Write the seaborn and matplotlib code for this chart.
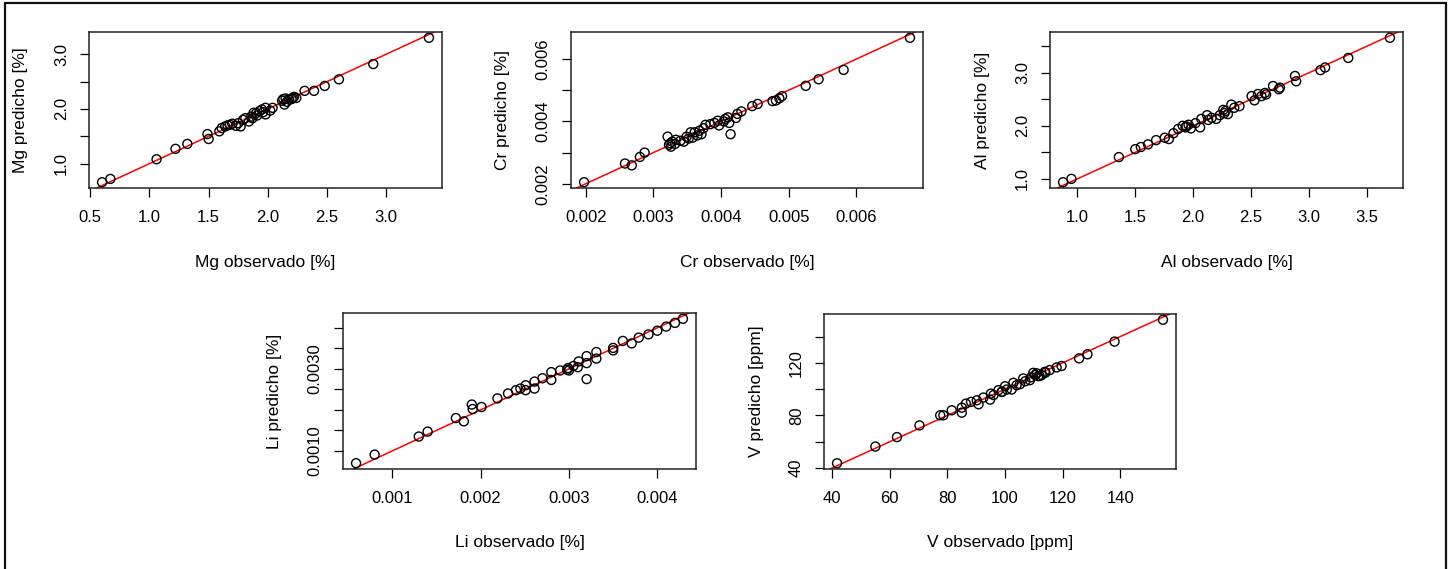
import numpy as np
import pandas as pd
import seaborn as sns
import matplotlib
matplotlib.use("Agg")
import matplotlib.pyplot as plt
from matplotlib.lines import Line2D

sns.set_style("white")
plt.rcParams["font.family"] = ["Liberation Sans", "DejaVu Sans"]

# --- Magnesio (%) ---
mg_obs = [0.60, 0.67, 1.06, 1.22, 1.32, 1.49, 1.50, 1.59, 1.61, 1.64, 1.66, 1.68, 1.70,
          1.73, 1.75, 1.77, 1.79, 1.81, 1.84, 1.86, 1.87, 1.88, 1.90, 1.91, 1.93, 1.95,
          1.96, 1.98, 1.98, 2.02, 2.04, 2.12, 2.13, 2.14, 2.15, 2.16, 2.18, 2.20, 2.21,
          2.22, 2.24, 2.31, 2.39, 2.48, 2.60, 2.89, 3.36]
mg_pred = [0.66, 0.72, 1.08, 1.27, 1.36, 1.54, 1.45, 1.59, 1.65, 1.68, 1.70, 1.71, 1.73,
           1.69, 1.74, 1.68, 1.80, 1.83, 1.77, 1.86, 1.83, 1.93, 1.92, 1.88, 1.96, 1.99,
           1.94, 2.02, 1.90, 1.97, 2.02, 2.15, 2.18, 2.08, 2.19, 2.13, 2.17, 2.18, 2.20,
           2.22, 2.20, 2.33, 2.33, 2.42, 2.54, 2.82, 3.30]

# --- Cromo (%) ---
cr_obs = [0.001975, 0.00258, 0.00268, 0.00280, 0.00287, 0.00321, 0.00323, 0.00325,
          0.00326, 0.00328, 0.00332, 0.00333, 0.00340, 0.00345, 0.00349, 0.00352,
          0.00355, 0.00358, 0.00361, 0.00365, 0.00368, 0.00371, 0.00374, 0.00377,
          0.00384, 0.00390, 0.00395, 0.00397, 0.00404, 0.00406, 0.00410, 0.00412,
          0.00414, 0.00422, 0.00424, 0.00430, 0.00446, 0.00454, 0.00476, 0.00481,
          0.00486, 0.00490, 0.00525, 0.00544, 0.00581, 0.00679]
cr_pred = [0.00205, 0.00265, 0.00259, 0.00286, 0.00300, 0.00351, 0.00325, 0.00330,
           0.00319, 0.00335, 0.00328, 0.00341, 0.00338, 0.00335, 0.00351, 0.00345,
           0.00365, 0.00348, 0.00365, 0.00355, 0.00370, 0.00359, 0.00378, 0.00389,
           0.00391, 0.00395, 0.00402, 0.00387, 0.00400, 0.00408, 0.00413, 0.00395,
           0.00359, 0.00411, 0.00424, 0.00432, 0.00449, 0.00456, 0.00465, 0.00467,
           0.00474, 0.00481, 0.00514, 0.00535, 0.00565, 0.00668]

# --- Aluminio (%) ---
al_obs = [0.876, 0.948, 1.358, 1.50, 1.548, 1.61, 1.68, 1.755, 1.79, 1.83, 1.87, 1.91,
          1.934, 1.94, 1.96, 1.98, 2.02, 2.06, 2.07, 2.12, 2.13, 2.16, 2.20, 2.23, 2.26,
          2.27, 2.28, 2.30, 2.33, 2.355, 2.40, 2.505, 2.53, 2.56, 2.59, 2.62, 2.63,
          2.69, 2.74, 2.75, 2.88, 2.89, 3.10, 3.14, 3.34, 3.70]
al_pred = [0.936, 1.00, 1.41, 1.56, 1.60, 1.65, 1.73, 1.776, 1.75, 1.86, 1.94, 2.00,
           1.97, 1.99, 2.02, 1.95, 2.05, 1.97, 2.13, 2.20, 2.11, 2.15, 2.13, 2.20, 2.30,
           2.24, 2.28, 2.22, 2.40, 2.34, 2.37, 2.56, 2.48, 2.60, 2.56, 2.62, 2.59,
           2.75, 2.69, 2.72, 2.94, 2.84, 3.05, 3.10, 3.28, 3.66]

# --- Litio (%) ---
li_obs = [0.00059, 0.00080, 0.00130, 0.00140, 0.00172, 0.00181, 0.00190, 0.00191,
          0.00201, 0.00219, 0.00231, 0.00240, 0.00245, 0.00251, 0.00251, 0.00261,
          0.00261, 0.00270, 0.00280, 0.00280, 0.00290, 0.00298, 0.00299, 0.00300,
          0.00305, 0.00310, 0.00311, 0.00320, 0.00320, 0.00320, 0.00331, 0.00331,
          0.00350, 0.00350, 0.00361, 0.00371, 0.00379, 0.00390, 0.00400, 0.00410,
          0.00420, 0.00429]
li_pred = [0.00070, 0.00091, 0.00135, 0.00147, 0.00180, 0.00172, 0.00213, 0.00202,
           0.00207, 0.00228, 0.00240, 0.00248, 0.00252, 0.00248, 0.00260, 0.00252,
           0.00269, 0.00277, 0.00292, 0.00273, 0.00296, 0.00298, 0.00302, 0.00296,
           0.00307, 0.00304, 0.00318, 0.00331, 0.00314, 0.00275, 0.00341, 0.00325,
           0.00345, 0.00351, 0.00368, 0.00362, 0.00376, 0.00384, 0.00393, 0.00403,
           0.00412, 0.00422]

# --- Vanadio (ppm) ---
v_obs = [41.7, 55.0, 62.5, 70.3, 77.5, 78.6, 81.5, 85.0, 85.0, 86.4, 88.2, 90.2, 90.8,
         92.5, 94.8, 95.1, 96.0, 97.7, 98.8, 99.0, 100.0, 100.6, 102.3, 102.9, 104.0,
         105.2, 106.3, 107.0, 108.6, 109.0, 109.8, 110.4, 111.0, 111.5, 112.0, 112.7,
         113.8, 114.0, 115.5, 117.9, 119.6, 125.7, 128.6, 138.0, 154.8]
v_pred = [43.6, 56.3, 63.5, 72.4, 80.1, 80.1, 83.9, 85.9, 82.1, 89.0, 90.3, 91.5, 88.5,
          93.6, 92.0, 96.6, 95.5, 99.2, 97.9, 98.0, 102.2, 99.7, 99.7, 104.8, 103.0,
          103.8, 108.1, 106.0, 106.8, 109.0, 112.4, 110.7, 112.0, 109.9, 110.0, 110.7,
          113.2, 112.5, 114.5, 116.5, 117.6, 123.4, 126.5, 136.2, 152.8]

# Tick positions and which of them carry a label
mg_xticks = [0.5, 1.0, 1.5, 2.0, 2.5, 3.0]
mg_xlabels = ["0.5", "1.0", "1.5", "2.0", "2.5", "3.0"]
mg_yticks = [1.0, 1.5, 2.0, 2.5, 3.0]
mg_ylabels = ["1.0", "", "2.0", "", "3.0"]

cr_xticks = [0.002, 0.003, 0.004, 0.005, 0.006]
cr_xlabels = ["0.002", "0.003", "0.004", "0.005", "0.006"]
cr_yticks = [0.002, 0.003, 0.004, 0.005, 0.006]
cr_ylabels = ["0.002", "", "0.004", "", "0.006"]

al_xticks = [1.0, 1.5, 2.0, 2.5, 3.0, 3.5]
al_xlabels = ["1.0", "1.5", "2.0", "2.5", "3.0", "3.5"]
al_yticks = [1.0, 1.5, 2.0, 2.5, 3.0, 3.5]
al_ylabels = ["1.0", "", "2.0", "", "3.0", ""]

li_xticks = [0.001, 0.002, 0.003, 0.004]
li_xlabels = ["0.001", "0.002", "0.003", "0.004"]
li_yticks = [0.0010, 0.0015, 0.0020, 0.0025, 0.0030, 0.0035, 0.0040]
li_ylabels = ["0.0010", "", "", "", "0.0030", "", ""]

v_xticks = [40, 60, 80, 100, 120, 140]
v_xlabels = ["40", "60", "80", "100", "120", "140"]
v_yticks = [40, 60, 80, 100, 120, 140]
v_ylabels = ["40", "", "80", "", "120", ""]

panels = [
    dict(obs=mg_obs, pred=mg_pred, xl="Mg observado [%]", yl="Mg predicho [%]",
         xt=mg_xticks, xtl=mg_xlabels, yt=mg_yticks, ytl=mg_ylabels, box=(89, 32, 442, 188)),
    dict(obs=cr_obs, pred=cr_pred, xl="Cr observado [%]", yl="Cr predicho [%]",
         xt=cr_xticks, xtl=cr_xlabels, yt=cr_yticks, ytl=cr_ylabels, box=(571, 32, 923, 188)),
    dict(obs=al_obs, pred=al_pred, xl="Al observado [%]", yl="Al predicho [%]",
         xt=al_xticks, xtl=al_xlabels, yt=al_yticks, ytl=al_ylabels, box=(1050, 32, 1403, 188)),
    dict(obs=li_obs, pred=li_pred, xl="Li observado [%]", yl="Li predicho [%]",
         xt=li_xticks, xtl=li_xlabels, yt=li_yticks, ytl=li_ylabels, box=(343, 313, 696, 469)),
    dict(obs=v_obs, pred=v_pred, xl="V observado [ppm]", yl="V predicho [ppm]",
         xt=v_xticks, xtl=v_xlabels, yt=v_yticks, ytl=v_ylabels, box=(824, 314, 1176, 469)),
]

W, H = 1453, 569
fig = plt.figure(figsize=(W / 100, H / 100), dpi=100)
fig.patch.set_facecolor("white")


def padded(vals):
    lo, hi = min(vals), max(vals)
    pad = 0.04 * (hi - lo)
    return lo - pad, hi + pad


for p in panels:
    x0, y0, x1, y1 = p["box"]
    ax = fig.add_axes([x0 / W, 1 - y1 / H, (x1 - x0) / W, (y1 - y0) / H])
    df = pd.DataFrame({"obs": p["obs"], "pred": p["pred"]})
    sns.scatterplot(data=df, x="obs", y="pred", ax=ax, marker="o", s=42,
                    facecolor="none", edgecolor="black", linewidth=1.0, zorder=3)
    xlim = padded(p["obs"])
    ylim = padded(p["pred"])
    ax.set_xlim(*xlim)
    ax.set_ylim(*ylim)
    ax.axline((xlim[0], xlim[0]), slope=1, color="red", lw=1.1, zorder=2)
    ax.set_xlim(*xlim)
    ax.set_ylim(*ylim)

    ax.set_xticks(p["xt"])
    ax.set_xticklabels(p["xtl"])
    ax.set_yticks(p["yt"])
    ax.set_yticklabels(p["ytl"], rotation=90, va="center")
    ax.tick_params(axis="both", direction="out", length=6.5, width=0.9,
                   color="black", labelsize=12, labelcolor="black")
    ax.tick_params(axis="x", pad=9)
    ax.tick_params(axis="y", pad=8)
    ax.tick_params(bottom=True, left=True)

    for s in ax.spines.values():
        s.set_visible(True)
        s.set_color("#222222")
        s.set_linewidth(1.1)

    ax.set_xlabel(p["xl"], fontsize=12.5, color="black")
    ax.set_ylabel(p["yl"], fontsize=12.5, color="black")
    hpx = y1 - y0
    wpx = x1 - x0
    ax.xaxis.set_label_coords(0.5, -74 / hpx)
    ax.xaxis.label.set_va("center")
    ax.yaxis.set_label_coords(-68 / wpx, 0.5)
    ax.yaxis.label.set_va("center")

# outer frame
fx0, fx1, fy_top = 5 / W, 1446 / W, 1 - 3 / H
for xs, ys in [([fx0, fx1], [fy_top, fy_top]), ([fx0, fx0], [0, fy_top]),
               ([fx1, fx1], [0, fy_top])]:
    fig.add_artist(Line2D(xs, ys, transform=fig.transFigure, color="#111111", lw=1.6))

fig.savefig("out.png", dpi=100, facecolor="white")
